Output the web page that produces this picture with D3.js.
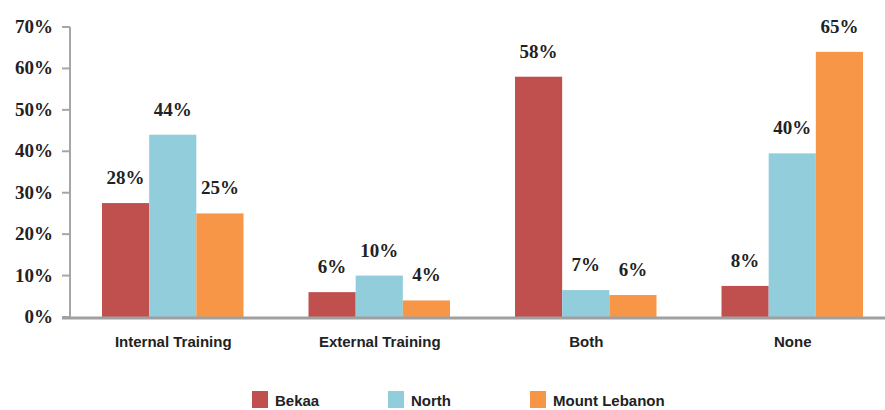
<!DOCTYPE html>
<html>
<head>
<meta charset="utf-8">
<script src="https://cdn.jsdelivr.net/npm/d3@7"></script>
<style>
	body { margin: 0; background: #fff; }
	svg { display: block; }
	.tick-label, .value-label { font-family: "Liberation Serif", "DejaVu Serif", serif; font-weight: bold; font-size: 19px; fill: #222; }
	.cat-label, .legend-label { font-family: "Liberation Sans", Arial, sans-serif; font-weight: bold; font-size: 15px; fill: #222; }
</style>
</head>
<body>
<script>
var categories = ['Internal Training', 'External Training', 'Both', 'None'];
var seriesNames = ['Bekaa', 'North', 'Mount Lebanon'];
var colors = ['#c0504d', '#92cddc', '#f79646'];

// bar heights as drawn, and the printed labels
var bekaa = [27.5, 6, 58, 7.5];
var north = [44, 10, 6.5, 39.5];
var mountLebanon = [25, 4, 5.3, 64];
var bekaaLabels = ['28%', '6%', '58%', '8%'];
var northLabels = ['44%', '10%', '7%', '40%'];
var mountLebanonLabels = ['25%', '4%', '6%', '65%'];
var yTicks = [0, 10, 20, 30, 40, 50, 60, 70];

var width = 885, height = 410;
var values = [bekaa, north, mountLebanon];
var labels = [bekaaLabels, northLabels, mountLebanonLabels];

var svg = d3.select('body').append('svg')
	.attr('width', width)
	.attr('height', height);

var x = d3.scaleBand()
	.domain(categories)
	.range([70, 896])
	.paddingInner(0)
	.paddingOuter(0);

var xs = d3.scaleBand()
	.domain(seriesNames)
	.range([32, x.bandwidth() - 33]);

var y = d3.scaleLinear()
	.domain([0, 70])
	.range([317, 27]);

// y axis
var yAxis = svg.append('g');
yAxis.append('line')
	.attr('x1', 70).attr('x2', 70)
	.attr('y1', y(70)).attr('y2', y(0))
	.attr('stroke', '#a6a6a6')
	.attr('stroke-width', 2);

yAxis.selectAll('.tick')
	.data(yTicks)
	.enter().append('line')
	.attr('x1', 62).attr('x2', 70)
	.attr('y1', function(d) { return y(d); })
	.attr('y2', function(d) { return y(d); })
	.attr('stroke', '#a6a6a6')
	.attr('stroke-width', 2);

yAxis.selectAll('.tick-label')
	.data(yTicks)
	.enter().append('text')
	.attr('class', 'tick-label')
	.attr('x', 53)
	.attr('y', function(d) { return y(d) + 6; })
	.attr('text-anchor', 'end')
	.text(function(d) { return d + '%'; });

// bars
for (var s = 0; s < seriesNames.length; s++) {
	var g = svg.append('g');
	var rows = categories.map(function(c, i) {
		return {cat: c, v: values[s][i], label: labels[s][i]};
	});

	g.selectAll('rect')
		.data(rows)
		.enter().append('rect')
		.attr('x', function(d) { return x(d.cat) + xs(seriesNames[s]); })
		.attr('y', function(d) { return y(d.v); })
		.attr('width', xs.bandwidth())
		.attr('height', function(d) { return y(0) - y(d.v); })
		.attr('fill', colors[s]);

	g.selectAll('text')
		.data(rows)
		.enter().append('text')
		.attr('class', 'value-label')
		.attr('x', function(d) { return x(d.cat) + xs(seriesNames[s]) + xs.bandwidth() / 2; })
		.attr('y', function(d) { return y(d.v) - 19; })
		.attr('text-anchor', 'middle')
		.text(function(d) { return d.label; });
}

// baseline
svg.append('line')
	.attr('x1', 62).attr('x2', width)
	.attr('y1', y(0) + 1).attr('y2', y(0) + 1)
	.attr('stroke', '#a0a0a0')
	.attr('stroke-width', 3);

svg.selectAll('.cat-label')
	.data(categories)
	.enter().append('text')
	.attr('class', 'cat-label')
	.attr('x', function(d) { return x(d) + x.bandwidth() / 2; })
	.attr('y', 347)
	.attr('text-anchor', 'middle')
	.text(function(d) { return d; });

// legend
var legendX = [252, 388, 530];
var legend = svg.selectAll('.legend')
	.data(seriesNames)
	.enter().append('g')
	.attr('transform', function(d, i) { return 'translate(' + legendX[i] + ',391)'; });

legend.append('rect')
	.attr('width', 16)
	.attr('height', 17)
	.attr('fill', function(d, i) { return colors[i]; });

legend.append('text')
	.attr('class', 'legend-label')
	.attr('x', 23)
	.attr('y', 15)
	.text(function(d) { return d; });
</script>
</body>
</html>
